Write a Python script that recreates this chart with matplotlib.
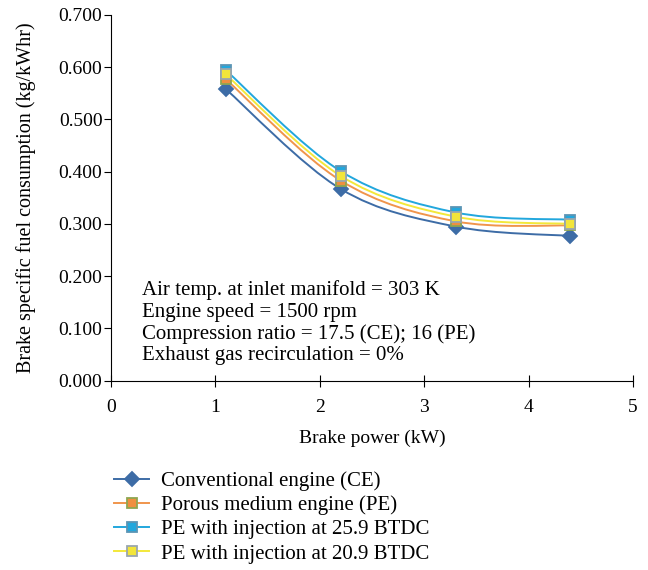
import numpy as np
import matplotlib.pyplot as plt
from matplotlib.path import Path
from matplotlib.patches import PathPatch
from matplotlib.lines import Line2D

plt.rcParams['font.family'] = ['Liberation Serif', 'DejaVu Serif']

power = [1.1, 2.2, 3.3, 4.4]
bsfc_ce = [0.558, 0.367, 0.295, 0.277]
bsfc_pe = [0.577, 0.383, 0.305, 0.297]
bsfc_259 = [0.594, 0.401, 0.322, 0.308]
bsfc_209 = [0.586, 0.392, 0.314, 0.300]

labels = ['Conventional engine (CE)', 'Porous medium engine (PE)',
          'PE with injection at 25.9 BTDC', 'PE with injection at 20.9 BTDC']
notes = ['Air temp. at inlet manifold = 303 K', 'Engine speed = 1500 rpm',
         'Compression ratio = 17.5 (CE); 16 (PE)', 'Exhaust gas recirculation = 0%']


def smooth_path(x, y, t=1/6):
    # excel-like smoothed line: cubic bezier through the points
    x = np.asarray(x, float)
    y = np.asarray(y, float)
    n = len(x)
    verts = [(x[0], y[0])]
    codes = [Path.MOVETO]
    for i in range(n - 1):
        p0 = i - 1 if i > 0 else i
        p3 = i + 2 if i + 2 < n else i + 1
        c1 = (x[i] + (x[i + 1] - x[p0]) * t, y[i] + (y[i + 1] - y[p0]) * t)
        c2 = (x[i + 1] - (x[p3] - x[i]) * t, y[i + 1] - (y[p3] - y[i]) * t)
        verts += [c1, c2, (x[i + 1], y[i + 1])]
        codes += [Path.CURVE4] * 3
    return Path(verts, codes)


fig = plt.figure(figsize=(6.48, 5.70), dpi=100)
ax = fig.add_axes([0.171, 0.332, 0.806, 0.642])

series = [
    (bsfc_ce, '#3d6ca6', 'D', '#3d6ca6', '#3d6ca6', 7),
    (bsfc_pe, '#f0954c', 's', '#ef8f3f', '#8fa650', 7.5),
    (bsfc_259, '#22a7dd', 's', '#22a7dd', '#5b95b5', 7.5),
    (bsfc_209, '#f3e83a', 's', '#f2e53a', '#9aa6ae', 7.5),
]
handles = []
for vals, lc, mk, fc, ec, ms in series:
    ax.add_patch(PathPatch(smooth_path(power, vals), facecolor='none',
                           edgecolor=lc, lw=1.4, zorder=2))
    ax.plot(power, vals, ls='none', marker=mk, ms=ms, mfc=fc, mec=ec,
            mew=1.3, zorder=3)
    handles.append(Line2D([], [], color=lc, lw=1.4, marker=mk, ms=ms,
                          mfc=fc, mec=ec, mew=1.3))

ax.set_xlim(0, 5)
ax.set_ylim(0, 0.7)
ax.set_xticks(range(6))
ax.set_yticks(np.arange(0, 0.71, 0.1))
ax.set_yticklabels(['%.3f' % v for v in np.arange(0, 0.71, 0.1)])
for s in ['top', 'right']:
    ax.spines[s].set_visible(False)
ax.tick_params(axis='x', direction='inout', length=8, labelsize=14, pad=9)
ax.tick_params(axis='y', direction='out', length=5, labelsize=14, pad=1)
ax.set_xlabel('Brake power (kW)', fontsize=14, labelpad=10)
ax.set_ylabel('Brake specific fuel consumption (kg/kWhr)', fontsize=14.5,
              labelpad=16)

ax.text(0.06, 0.275, '\n'.join(notes), transform=ax.transAxes, fontsize=15,
        va='top', linespacing=1.18)

fig.legend(handles, labels, loc='upper left', bbox_to_anchor=(0.163, 0.188),
           frameon=False, fontsize=15, handlelength=1.7, handletextpad=0.55,
           labelspacing=0.22, borderaxespad=0)

fig.savefig('out.png', dpi=100)
